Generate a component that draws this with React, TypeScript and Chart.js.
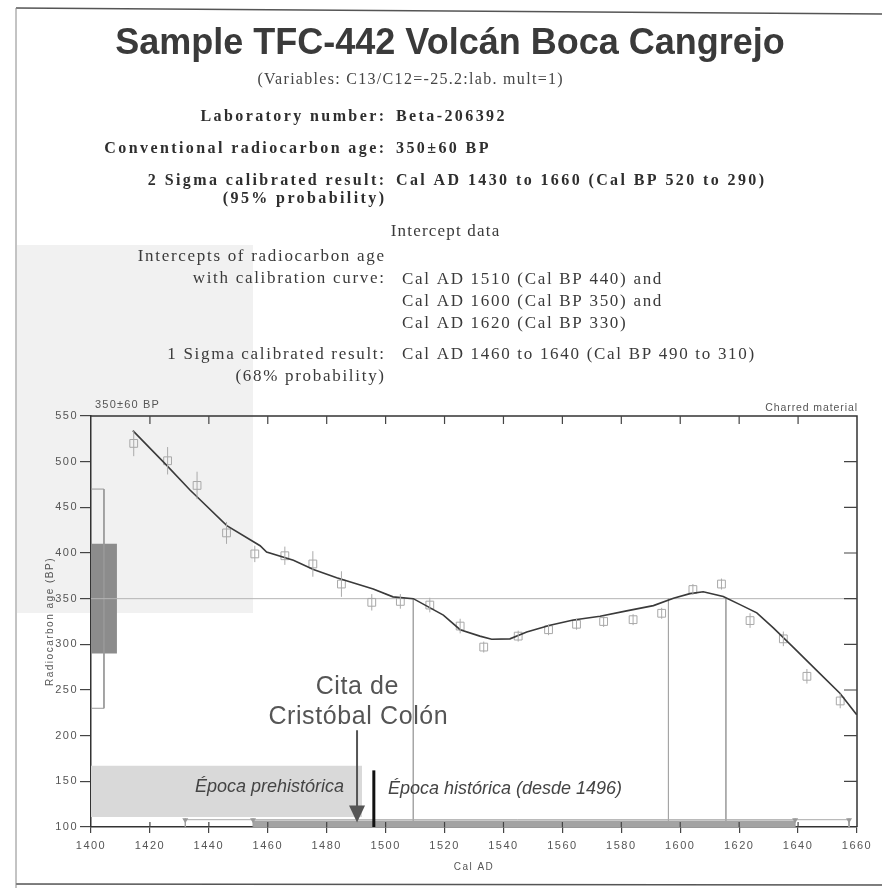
import React, { useEffect, useRef } from "react";
import { Chart, registerables } from "chart.js";
Chart.register(...registerables);

// ---------- data ----------
const curveYears = [1414.2, 1425.7, 1433.6, 1446.1, 1457.4, 1459.6, 1468.7, 1475.5, 1483.4, 1495.8, 1502.5, 1509.4, 1519.6, 1525.3, 1532, 1536, 1542.2, 1547.9, 1555.8, 1563.7, 1572.8, 1581.8, 1590.9, 1597.7, 1603.3, 1607.8, 1614.6, 1620.3, 1626, 1631.6, 1638.4, 1646.3, 1654.2, 1659.9];
const curveBP = [534, 496, 469, 430, 408, 401, 392, 382, 373, 360.5, 352, 350, 332, 316, 309, 305.5, 306, 313.5, 321, 326.7, 330.8, 336.6, 342.4, 350.5, 355.5, 357.5, 352.3, 343.5, 334.5, 318, 296.7, 271.5, 246.4, 222.9];

const obsYears = [1414.5, 1426, 1436, 1446, 1455.6, 1465.8, 1475.3, 1485, 1495.3, 1505, 1515, 1525.3, 1533.3, 1545, 1555.3, 1564.8, 1574, 1584, 1593.7, 1604.3, 1614, 1623.7, 1635, 1643, 1654.3];
const obsBP = [520, 501, 474, 422, 399, 397, 388, 366, 346, 347, 343, 320, 297, 309, 316, 322, 325, 327, 334, 360, 366, 326, 306, 265, 238];
const obsErr = [14, 15, 15, 12, 9, 10, 14, 14, 9, 8, 8, 8, 6, 6, 6, 6, 6, 6, 6, 6, 6, 8, 8, 8, 8];

const measuredAge = 350;
const sigma1Age = [290, 410];
const sigma2Age = [230, 470];
const ageBoxYears = [1400, 1408.8];
const ageOutlineYears = [1400, 1404.4];
const interceptYears = [1509.4, 1596, 1615.5];
const cal1Sigma = [1455, 1639];
const cal2Sigma = [1432, 1657.3];
const rangeBarBP = [100, 107, 108];
const markerYears = [1432, 1455, 1639, 1657.3];
const prehistoricYears = [1400, 1492];
const prehistoricBP = [111, 167];
const columbusYear = 1490.3;
const columbusArrowBP = [206, 105];
const historicYear = 1496;
const historicLineBP = [100, 162];
const xRange = [1400, 1660];
const yRange = [100, 550];

const SANS = '"Liberation Sans", Arial, sans-serif';
const SERIF = '"Liberation Serif", "Times New Roman", serif';

function txt(ctx: CanvasRenderingContext2D, text: string, x: number, y: number, font: string, color: string, spacing: number, align: "left" | "right" | "center") {
  ctx.save();
  ctx.font = font;
  ctx.fillStyle = color;
  ctx.textBaseline = "middle";
  (ctx as any).letterSpacing = spacing + "px";
  const w = ctx.measureText(text).width - spacing;
  let left = x;
  if (align === "right") left = x - w;
  else if (align === "center") left = x - w / 2;
  ctx.textAlign = "left";
  ctx.fillText(text, left, y);
  ctx.restore();
}

const pts = (xs: number[], ys: number[]) => xs.map((x, i) => ({ x, y: ys[i] }));

const decor = {
  id: "decor",
  beforeDraw(chart: any) {
    const ctx = chart.ctx as CanvasRenderingContext2D;
    ctx.save();
    ctx.fillStyle = "#ffffff";
    ctx.fillRect(0, 0, chart.width, chart.height);
    // scanned page tint on the left
    ctx.fillStyle = "#f1f1f1";
    ctx.fillRect(17, 245, 236, 368);
    ctx.strokeStyle = "#555";
    ctx.lineWidth = 1.5;
    ctx.beginPath();
    ctx.moveTo(16, 8); ctx.lineTo(882, 14);
    ctx.moveTo(16, 884); ctx.lineTo(882, 885);
    ctx.stroke();
    ctx.strokeStyle = "#888";
    ctx.lineWidth = 1;
    ctx.beginPath();
    ctx.moveTo(16, 8); ctx.lineTo(16, 888);
    ctx.stroke();
    ctx.restore();
    (ctx as any).letterSpacing = "1.5px";
  },
  afterDatasetsDraw(chart: any) {
    const ctx = chart.ctx as CanvasRenderingContext2D;
    (ctx as any).letterSpacing = "0px";
    const xs = chart.scales.x, ys = chart.scales.y;
    // error bars
    ctx.save();
    ctx.strokeStyle = "#aaa";
    ctx.lineWidth = 1;
    obsYears.forEach((yr, i) => {
      const px = xs.getPixelForValue(yr);
      ctx.beginPath();
      ctx.moveTo(px, ys.getPixelForValue(obsBP[i] - obsErr[i]));
      ctx.lineTo(px, ys.getPixelForValue(obsBP[i] + obsErr[i]));
      ctx.stroke();
    });
    // range markers
    ctx.strokeStyle = "#999";
    ctx.fillStyle = "#999";
    markerYears.forEach((yr) => {
      const px = xs.getPixelForValue(yr);
      const top = ys.getPixelForValue(109.5);
      ctx.beginPath();
      ctx.moveTo(px, ys.getPixelForValue(100));
      ctx.lineTo(px, top);
      ctx.stroke();
      ctx.beginPath();
      ctx.moveTo(px - 3, top); ctx.lineTo(px + 3, top); ctx.lineTo(px, top + 5);
      ctx.closePath(); ctx.fill();
    });
    // arrow head
    const ax = xs.getPixelForValue(columbusYear);
    const tip = ys.getPixelForValue(columbusArrowBP[1]);
    ctx.fillStyle = "#555";
    ctx.beginPath();
    ctx.moveTo(ax - 8, tip - 17); ctx.lineTo(ax + 8, tip - 17); ctx.lineTo(ax, tip);
    ctx.closePath(); ctx.fill();
    ctx.restore();
    // annotation texts
    txt(ctx, "Cita de", ax, ys.getPixelForValue(253), `25px ${SANS}`, "#555", 0.6, "center");
    txt(ctx, "Cristóbal Colón", ax + 1, ys.getPixelForValue(220), `25px ${SANS}`, "#555", 0.6, "center");
    txt(ctx, "Época prehistórica", xs.getPixelForValue(1435.3), ys.getPixelForValue(144), `italic 18px ${SANS}`, "#444", 0, "left");
    txt(ctx, "Época histórica (desde 1496)", xs.getPixelForValue(1500.8), ys.getPixelForValue(142), `italic 18px ${SANS}`, "#444", 0, "left");
  },
  afterDraw(chart: any) {
    const ctx = chart.ctx as CanvasRenderingContext2D;
    (ctx as any).letterSpacing = "0px";
    const a = chart.chartArea;
    const xs = chart.scales.x, ys = chart.scales.y;
    ctx.save();
    ctx.strokeStyle = "#333";
    ctx.lineWidth = 1.5;
    ctx.beginPath();
    ctx.moveTo(a.left, a.top); ctx.lineTo(a.right, a.top); ctx.lineTo(a.right, a.bottom);
    ctx.stroke();
    ctx.lineWidth = 1.2;
    ctx.strokeStyle = "#444";
    ctx.beginPath();
    xs.ticks.forEach((t: any) => {
      if (t.value <= xRange[0] || t.value >= xRange[1]) return;
      const px = xs.getPixelForValue(t.value);
      ctx.moveTo(px, a.top); ctx.lineTo(px, a.top + 8);
      ctx.moveTo(px, a.bottom); ctx.lineTo(px, a.bottom - 5);
    });
    ys.ticks.forEach((t: any) => {
      if (t.value <= yRange[0] || t.value >= yRange[1]) return;
      const py = ys.getPixelForValue(t.value);
      ctx.moveTo(a.right, py); ctx.lineTo(a.right - 13, py);
    });
    ctx.stroke();
    ctx.restore();

    txt(ctx, `${measuredAge}±60 BP`, a.left + 4, 405, `11px ${SANS}`, "#555", 1.2, "left");
    txt(ctx, "Charred material", a.right, 408, `10.5px ${SANS}`, "#555", 0.9, "right");

    // header
    txt(ctx, "Sample TFC-442 Volcán Boca Cangrejo", 450, 44, `bold 36px ${SANS}`, "#3a3a3a", 0, "center");
    txt(ctx, "(Variables: C13/C12=-25.2:lab. mult=1)", 410, 80, `16px ${SERIF}`, "#444", 1.3, "center");
    const LX = 384, VXB = 396, VXR = 402;
    const B = `bold 16px ${SERIF}`, R = `17px ${SERIF}`;
    const bc = "#2e2e2e", rc = "#3a3a3a";
    const bs = 2.4, rs = 1.7;
    txt(ctx, "Laboratory number:", LX, 117, B, bc, bs, "right");
    txt(ctx, "Beta-206392", VXB, 117, B, bc, bs, "left");
    txt(ctx, "Conventional radiocarbon age:", LX, 149, B, bc, bs, "right");
    txt(ctx, "350±60 BP", VXB, 149, B, bc, bs, "left");
    txt(ctx, "2 Sigma calibrated result:", LX, 181, B, bc, bs, "right");
    txt(ctx, "Cal AD 1430 to 1660 (Cal BP 520 to 290)", VXB, 181, B, bc, bs, "left");
    txt(ctx, "(95% probability)", LX, 199, B, bc, bs, "right");
    txt(ctx, "Intercept data", 445, 232, R, rc, 1.2, "center");
    txt(ctx, "Intercepts of radiocarbon age", LX, 257, R, rc, rs, "right");
    txt(ctx, "with calibration curve:", LX, 279, R, rc, rs, "right");
    txt(ctx, "Cal AD 1510 (Cal BP 440) and", VXR, 280, R, rc, rs, "left");
    txt(ctx, "Cal AD 1600 (Cal BP 350) and", VXR, 302, R, rc, rs, "left");
    txt(ctx, "Cal AD 1620 (Cal BP 330)", VXR, 324, R, rc, rs, "left");
    txt(ctx, "1 Sigma calibrated result:", LX, 355, R, rc, rs, "right");
    txt(ctx, "Cal AD 1460 to 1640 (Cal BP 490 to 310)", VXR, 355, R, rc, rs, "left");
    txt(ctx, "(68% probability)", LX, 377, R, rc, rs, "right");
  },
};

const line = (data: any[], color: string, width: number, order: number, extra: any = {}) => ({
  type: "line",
  data,
  borderColor: color,
  borderWidth: width,
  pointRadius: 0,
  tension: 0,
  fill: false,
  order,
  ...extra,
});

export default function App() {
  const ref = useRef<HTMLCanvasElement>(null);
  useEffect(() => {
    const datasets: any[] = [
      line([{ x: prehistoricYears[0], y: prehistoricBP[1] }, { x: prehistoricYears[1], y: prehistoricBP[1] }], "rgba(0,0,0,0)", 0, 20, { fill: { value: prehistoricBP[0] }, backgroundColor: "#d9d9d9" }),
      line([{ x: ageBoxYears[0], y: sigma1Age[1] }, { x: ageBoxYears[1], y: sigma1Age[1] }], "rgba(0,0,0,0)", 0, 19, { fill: { value: sigma1Age[0] }, backgroundColor: "#8c8c8c" }),
      line([{ x: ageOutlineYears[0], y: sigma2Age[1] }, { x: ageOutlineYears[1], y: sigma2Age[1] }, { x: ageOutlineYears[1], y: sigma2Age[0] }, { x: ageOutlineYears[0], y: sigma2Age[0] }], "#999", 1, 18),
      line([{ x: xRange[0], y: measuredAge }, { x: xRange[1], y: measuredAge }], "#b5b5b5", 1, 17),
      ...interceptYears.map((yr) => line([{ x: yr, y: measuredAge }, { x: yr, y: yRange[0] }], "#a5a5a5", 1, 16)),
      line([{ x: cal1Sigma[0], y: rangeBarBP[1] }, { x: cal1Sigma[1], y: rangeBarBP[1] }], "rgba(0,0,0,0)", 0, 15, { fill: { value: rangeBarBP[0] }, backgroundColor: "#a3a3a3" }),
      line([{ x: cal2Sigma[0], y: rangeBarBP[0] }, { x: cal2Sigma[0], y: rangeBarBP[2] }, { x: cal2Sigma[1], y: rangeBarBP[2] }, { x: cal2Sigma[1], y: rangeBarBP[0] }], "#aaa", 1, 14),
      {
        type: "line",
        data: pts(obsYears, obsBP),
        showLine: false,
        pointStyle: "rect",
        pointRadius: 5.5,
        pointBorderColor: "#a8a8a8",
        pointBackgroundColor: "rgba(0,0,0,0)",
        pointBorderWidth: 1,
        order: 13,
      },
      line(pts(curveYears, curveBP), "#3a3a3a", 1.6, 5),
      line([{ x: historicYear, y: historicLineBP[0] }, { x: historicYear, y: historicLineBP[1] }], "#111", 3, 4),
      line([{ x: columbusYear, y: columbusArrowBP[0] }, { x: columbusYear, y: columbusArrowBP[1] + 8 }], "#555", 2, 3),
    ];
    const tickCb = (v: any) => String(v);
    const chart = new Chart(ref.current as HTMLCanvasElement, {
      type: "line",
      data: { datasets },
      options: {
        animation: false,
        responsive: false,
        devicePixelRatio: 1,
        events: [],
        layout: { padding: { left: 40, top: 416, right: 25, bottom: 11 } },
        plugins: { legend: { display: false }, tooltip: { enabled: false }, title: { display: false } },
        scales: {
          x: {
            type: "linear",
            min: xRange[0],
            max: xRange[1],
            ticks: { stepSize: 20, font: { family: SANS, size: 11 }, color: "#555", padding: 6, maxRotation: 0, autoSkip: false, callback: tickCb },
            grid: { drawOnChartArea: false, drawTicks: true, tickLength: 6, color: "#444", lineWidth: 1.2 },
            border: { display: true, color: "#333", width: 1.5 },
            title: { display: true, text: "Cal AD", font: { family: SANS, size: 10 }, color: "#555", padding: { top: 0, bottom: 4 } },
            afterFit: (s: any) => { s.height = 50; },
          },
          y: {
            type: "linear",
            min: yRange[0],
            max: yRange[1],
            ticks: { stepSize: 50, font: { family: SANS, size: 11 }, color: "#555", padding: 2, autoSkip: false, callback: tickCb },
            grid: { drawOnChartArea: false, drawTicks: true, tickLength: 11, color: "#444", lineWidth: 1.2 },
            border: { display: true, color: "#333", width: 1.5 },
            title: { display: true, text: "Radiocarbon age (BP)", font: { family: SANS, size: 10 }, color: "#555", padding: { top: 4, bottom: 0 } },
            afterFit: (s: any) => { s.width = 51; },
          },
        },
      } as any,
      plugins: [decor as any],
    });
    return () => chart.destroy();
  }, []);
  return (
    <div style={{ position: "absolute", left: 0, top: 0, width: 882, height: 888, background: "#fff" }}>
      <canvas ref={ref} width={882} height={888} style={{ display: "block", width: 882, height: 888 }} />
    </div>
  );
}
